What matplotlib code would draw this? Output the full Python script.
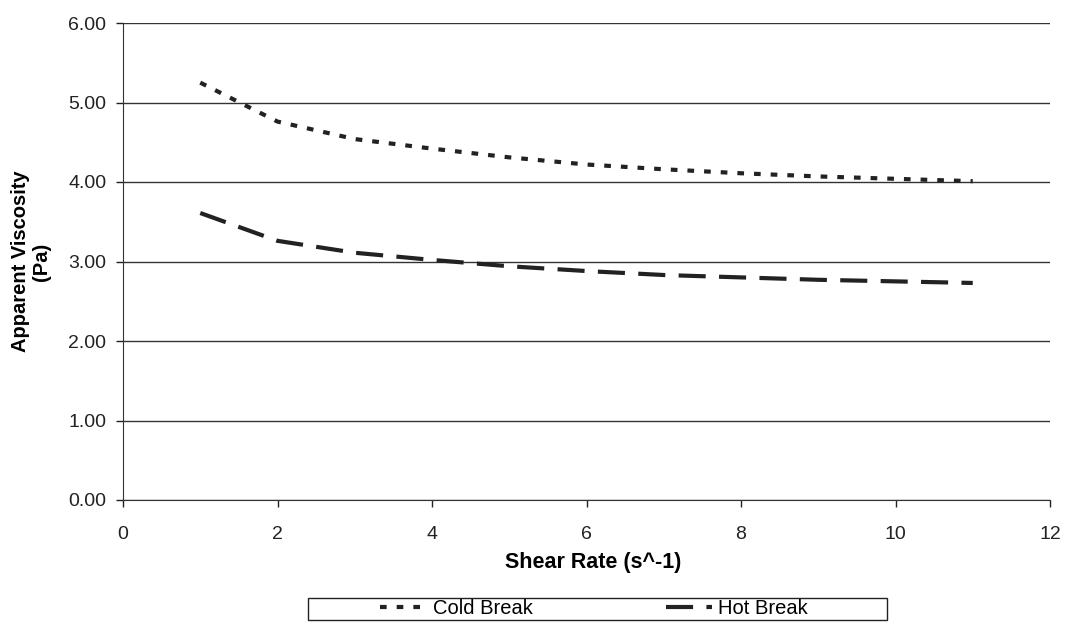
import numpy as np
import matplotlib
matplotlib.use('Agg')
import matplotlib.pyplot as plt
from matplotlib.patches import Rectangle

plt.rcParams['font.family'] = ['Liberation Sans', 'DejaVu Sans']

# data
shear_rate = [1, 2, 3, 4, 5, 6, 7, 8, 9, 10, 11]
cold_break = [5.25, 4.76, 4.54, 4.42, 4.31, 4.22, 4.16, 4.11, 4.07, 4.04, 4.01]
hot_break = [3.61, 3.26, 3.11, 3.02, 2.94, 2.88, 2.83, 2.80, 2.77, 2.75, 2.73]

x_ticks = [0, 2, 4, 6, 8, 10, 12]
y_ticks = [0, 1, 2, 3, 4, 5, 6]

W, H = 1066, 624
fig = plt.figure(figsize=(W / 100, H / 100), dpi=100)
ax = fig.add_axes([123 / W, 1 - 500 / H, 927 / W, 477 / H])

ax.plot(shear_rate, cold_break, color='#222222', linewidth=3,
        linestyle=(0, (1.6, 2.4)), label='Cold Break')
ax.plot(shear_rate, hot_break, color='#222222', linewidth=3,
        linestyle=(0, (6.5, 3.2)), label='Hot Break')

ax.set_xlim(0, 12)
ax.set_ylim(0, 6)
ax.set_xticks(x_ticks)
ax.set_yticks(y_ticks)
ax.set_yticklabels([f'{v:.2f}' for v in y_ticks])
ax.yaxis.grid(True, color='#333333', linewidth=1)
ax.set_axisbelow(True)

for s in ['top', 'right']:
    ax.spines[s].set_visible(False)
ax.spines['left'].set_color('#333333')
ax.spines['bottom'].set_color('#333333')
ax.tick_params(axis='both', direction='out', length=5, width=1, labelsize=14, colors='#222222')
ax.tick_params(axis='y', pad=7)
ax.tick_params(axis='x', pad=14)

ax.set_xlabel('Shear Rate (s^-1)', fontsize=15.5, fontweight='bold', va='top')
ax.xaxis.set_label_coords(0.507, -0.11)
ax.set_ylabel('Apparent Viscosity\n(Pa)', fontsize=14.5, fontweight='bold', linespacing=1.1)
ax.yaxis.set_label_coords(-0.078, 0.5)

# legend box drawn separately so the entries sit centred in it
fig.patches.append(Rectangle((308 / W, 1 - 620 / H), 579 / W, 22 / H, transform=fig.transFigure,
                             fill=False, edgecolor='#222222', linewidth=1))
handles, labels = ax.get_legend_handles_labels()
fig.legend(handles, labels, loc='center', ncol=2, bbox_to_anchor=(594 / W, 1 - 609 / H),
           fontsize=14.5, frameon=False, borderaxespad=0, borderpad=0,
           handlelength=2.3, handletextpad=0.3, columnspacing=6.6)

fig.savefig('out.png', dpi=100)
